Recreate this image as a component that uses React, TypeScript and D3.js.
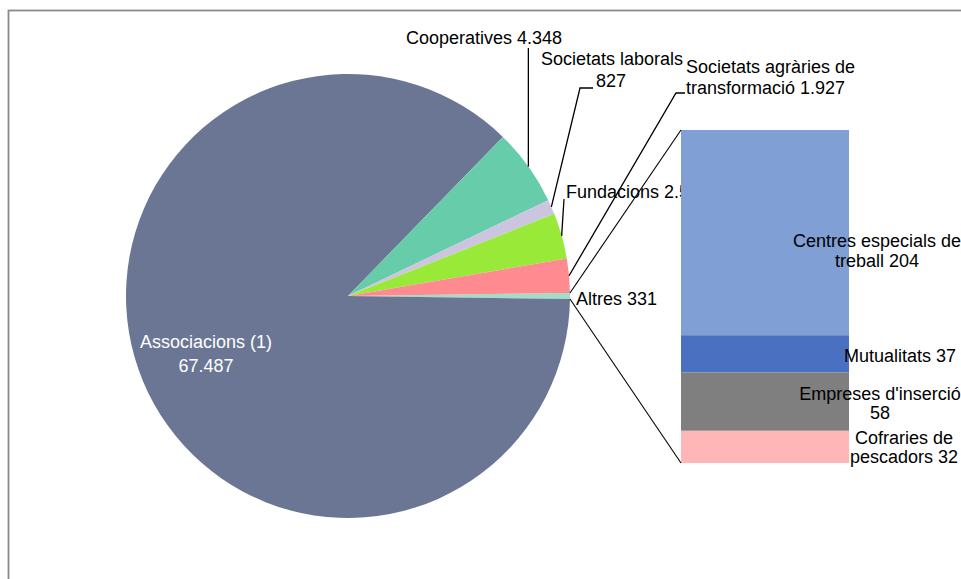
import React from "react";
import * as d3 from "d3";

// ---- data ----
const pieCategories = ["Altres", "Associacions (1)", "Cooperatives", "Societats laborals", "Fundacions", "Societats agràries de transformació"];
const pieValues = [331, 67487, 4348, 827, 2585, 1927];
const pieColors = ["#a3ddca", "#6a7694", "#66ccaa", "#ccc5e0", "#99ea38", "#ff8b90"];
const pieValueLabels = ["331", "67.487", "4.348", "827", "2.585", "1.927"];

const barCategories = ["Centres especials de treball", "Mutualitats", "Empreses d'inserció", "Cofraries de pescadors"];
const barValues = [204, 37, 58, 32];
const barColors = ["#7f9fd5", "#4a70c2", "#7f7f7f", "#ffb6b6"];

const W = 961, H = 579;
const FONT = "'Liberation Sans', Arial, sans-serif";

export default function App() {
  const cx = 348, cy = 296, r = 222;
  const total = d3.sum(pieValues);
  const otherAngle = (2 * Math.PI * pieValues[0]) / total;
  const pie = d3
    .pie<number>()
    .sort(null)
    .value((d) => d)
    .startAngle(Math.PI / 2 - otherAngle / 2)
    .endAngle(Math.PI / 2 - otherAngle / 2 + 2 * Math.PI);
  const arcs = pie(pieValues);
  const arc = d3.arc<d3.PieArcDatum<number>>().innerRadius(0).outerRadius(r);
  const edge = (a: number) => [cx + r * Math.sin(a), cy - r * Math.cos(a)];
  const mid = (i: number) => edge((arcs[i].startAngle + arcs[i].endAngle) / 2);

  // bar
  const barX = 681, barW = 168;
  const y = d3.scaleLinear().domain([0, d3.sum(barValues)]).range([130, 463]);
  const cum = d3.cumsum(barValues);
  const segs = barValues.map((v, i) => ({ y0: y(cum[i] - v), y1: y(cum[i]), c: barColors[i] }));

  const oTop = edge(arcs[0].startAngle);
  const oBot = edge(arcs[0].endAngle);

  const coop = mid(2), lab = mid(3), fund = mid(4), agr = mid(5);
  const lineStyle = { stroke: "#000", strokeWidth: 1.3, fill: "none" } as const;
  const txt = { fontFamily: FONT, fontSize: 18, fill: "#000" } as const;

  return (
    <svg width={W} height={H} style={{ position: "absolute", left: 0, top: 0, background: "#fff" }}>
      <rect x={8.5} y={10.5} width={1000} height={700} fill="#fff" stroke="#8a8a8a" strokeWidth={1.8} />
      <g transform={`translate(${cx},${cy})`}>
        {arcs.map((a, i) => (
          <path key={i} d={arc(a) || ""} fill={pieColors[i]} />
        ))}
      </g>
      {/* label partly hidden by the bar, as in the original */}
      <text x={566} y={198} {...txt}>{`${pieCategories[4]} ${pieValueLabels[4]}`}</text>
      {segs.map((s, i) => (
        <rect key={i} x={barX} y={s.y0} width={barW} height={s.y1 - s.y0} fill={s.c} />
      ))}
      {/* connector lines */}
      <line x1={oTop[0]} y1={oTop[1]} x2={barX} y2={y(0)} {...lineStyle} strokeWidth={1.1} />
      <line x1={oBot[0]} y1={oBot[1]} x2={barX} y2={y(d3.sum(barValues))} {...lineStyle} strokeWidth={1.1} />

      {/* leader lines */}
      <polyline points={`${coop[0]},48 ${coop[0]},${coop[1]}`} {...lineStyle} />
      <polyline points={`593,88 580,88 ${lab[0]},${lab[1]}`} {...lineStyle} />
      <polyline points={`564,199 ${fund[0]},${fund[1]}`} {...lineStyle} />
      <polyline points={`685,93 676,93 ${agr[0]},${agr[1]}`} {...lineStyle} />

      {/* pie labels */}
      <text x={406} y={44} {...txt}>{`${pieCategories[2]} ${pieValueLabels[2]}`}</text>
      <text x={541} y={65} {...txt}>{pieCategories[3]}</text>
      <text x={596} y={87} {...txt}>{pieValueLabels[3]}</text>
      <text x={686} y={73} {...txt}>Societats agràries de</text>
      <text x={686} y={94} {...txt}>{`transformació ${pieValueLabels[5]}`}</text>
      <text x={576} y={305} {...txt}>{`${pieCategories[0]} ${pieValueLabels[0]}`}</text>
      <text x={206} y={348} textAnchor="middle" {...txt} fill="#fff">{pieCategories[1]}</text>
      <text x={206} y={372} textAnchor="middle" {...txt} fill="#fff">{pieValueLabels[1]}</text>

      {/* bar labels */}
      <text x={877} y={247} textAnchor="middle" {...txt}>Centres especials de</text>
      <text x={877} y={267} textAnchor="middle" {...txt}>{`treball ${barValues[0]}`}</text>
      <text x={900} y={362} textAnchor="middle" {...txt}>{`${barCategories[1]} ${barValues[1]}`}</text>
      <text x={880} y={400} textAnchor="middle" {...txt}>{barCategories[2]}</text>
      <text x={880} y={419} textAnchor="middle" {...txt}>{`${barValues[2]}`}</text>
      <text x={904} y={444} textAnchor="middle" {...txt}>Cofraries de</text>
      <text x={904} y={463} textAnchor="middle" {...txt}>{`pescadors ${barValues[3]}`}</text>
    </svg>
  );
}
